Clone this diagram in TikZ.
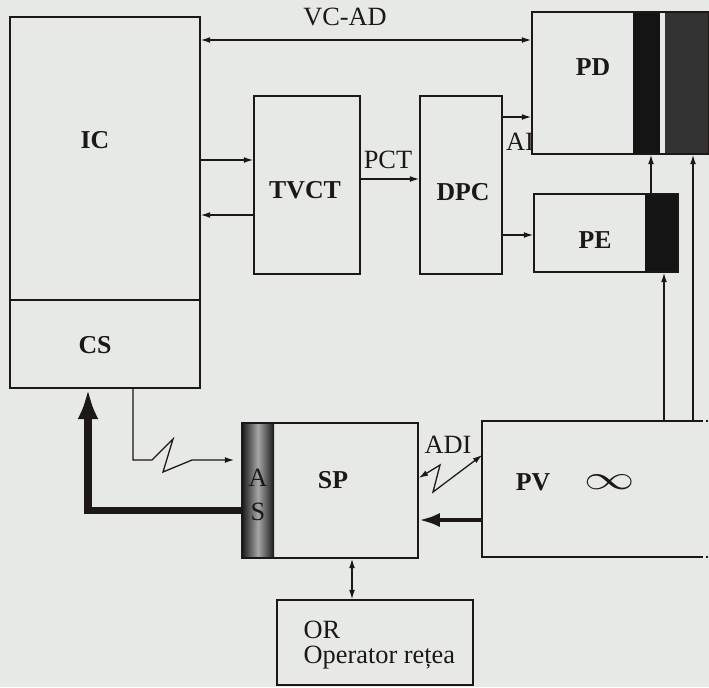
\documentclass[tikz,border=0pt]{standalone}
\usepackage{fontspec}
\setmainfont{Liberation Serif}
\usepackage{graphicx}
\usetikzlibrary{arrows.meta,calc,fit}
\definecolor{paper}{HTML}{E6E9E5}
\definecolor{ink}{HTML}{1C1818}
\definecolor{smoke}{HTML}{333333}
\tikzset{
  every picture/.style={>={Latex[length=8pt,width=5pt]}, x=0.03cm, y=-0.03cm,
    color=ink, line width=1.1pt},
  blk/.style={draw=ink, line width=1.3pt, inner sep=0pt, fit={#1}},
  lbl/.style={font=\fontsize{22}{24}\selectfont\bfseries, inner sep=0pt},
  tag/.style={font=\fontsize{22.5}{24}\selectfont, inner sep=0pt},
  bus/.style={line width=6pt, -{Latex[length=26pt,width=18pt]}},
  busthin/.style={line width=4pt, -{Latex[length=18pt,width=12pt]}},
}
\newcommand{\bbox}{\path[use as bounding box] (0,0) rectangle (709,687);}

\begin{document}
\begin{tikzpicture}
  \bbox
  \fill[paper] (0,0) rectangle (709,687);
  % dark strips
  \fill[black!92] (633,12) rectangle (660,154);
  \fill[smoke] (665,12) rectangle (709,154);
  \fill[black!92] (645,194) rectangle (678,272);
  \shade[left color=black!90, right color=black!90, middle color=gray!70] (242,423) rectangle (274,558);
  % blocks
  \node[blk={(10,17) (200,300)}] (ic) {};
  \node[blk={(10,300) (200,388)}] (cs) {};
  \node[blk={(254,96) (360,274)}] (tvct) {};
  \node[blk={(420,96) (502,274)}] (dpc) {};
  \node[blk={(532,12) (709,154)}] (pd) {};
  \node[blk={(534,194) (678,272)}] (pe) {};
  \node[blk={(242,423) (418,558)}] (sp) {};
  \node[blk={(483,422) (700,556)}, draw=none] (pv) {};
  \draw[line width=1.3pt] (pv.north east) -- (pv.north west) -- (pv.south west) -- (pv.south east);
  \draw[line width=1.3pt, dash pattern=on 1.5pt off 3pt] (pv.north east) -- ++(9,0);
  \draw[line width=1.3pt, dash pattern=on 1.5pt off 3pt] (pv.south east) -- ++(9,0);
  \node[blk={(277,600) (473,685)}] (opr) {};
  % labels
  \node[lbl] (l-ic) at (95,140) {IC};
  \node[lbl] (l-cs) at (95,345) {CS};
  \node[lbl] (l-tvct) at (305,190) {TVCT};
  \node[lbl] (l-dpc) at (463,192) {DPC};
  \node[lbl] (l-pd) at (593,67) {PD};
  \node[lbl] (l-pe) at (595,240) {PE};
  \node[lbl] (l-sp) at (333,480) {SP};
  \node[lbl] (l-pv) at (533,482) {PV};
  \node[inner sep=0pt] (l-inf) at (610,482) {\scalebox{4.3}[2.9]{$\infty$}};
  \node[tag] (l-a) at (258,478) {A};
  \node[tag] (l-s) at (258,512) {S};
  \node[tag] (l-vcad) at (345,17) {VC-AD};
  \node[tag] (l-pct) at (388,160) {PCT};
  \node[tag] (l-ai) at (520,142) {AI};
  \node[tag] (l-adi) at (448,445) {ADI};
  \node[tag, anchor=west] (l-or) at (303,630) {OR};
  \node[tag, anchor=west] (l-opr) at (303,658) {Operator rețea};
  % connectors
  \draw[<->] (ic.east |- 0,40) -- (pd.west |- 0,40);
  \draw[->] (ic.east |- 0,160) -- (tvct.west |- 0,160);
  \draw[->] (tvct.west |- 0,215) -- (ic.east |- 0,215);
  \draw[->] (tvct.east |- 0,179) -- (dpc.west |- 0,179);
  \draw[->] (dpc.east |- 0,117) -- (pd.west |- 0,117);
  \draw[->] (dpc.east |- 0,235) -- (pe.west |- 0,235);
  \draw[->] (pe.north -| 651,0) -- (pd.south -| 651,0);
  \draw[->] (pv.north -| 664,0) -- (pe.south -| 664,0);
  \draw[->] (pv.north -| 693,0) -- (pd.south -| 693,0);
  \draw[<->] (sp.south -| 352,0) -- (opr.north -| 352,0);
  \draw[busthin] (pv.west |- 0,520) -- (sp.east |- 0,520);
  \draw[bus] (sp.west |- 0,510) -| (cs.south -| 88,0);
  \draw[->] (cs.south -| 133,0) |- (152,460) -- (173,439) -- (163,472) -- (192,460) -- ([xshift=-6pt]sp.west |- 0,460);
  \draw[<->] (sp.east |- 0,478) -- (440,465) -- (433,492) -- (pv.west |- 0,455);
\end{tikzpicture}
\end{document}
